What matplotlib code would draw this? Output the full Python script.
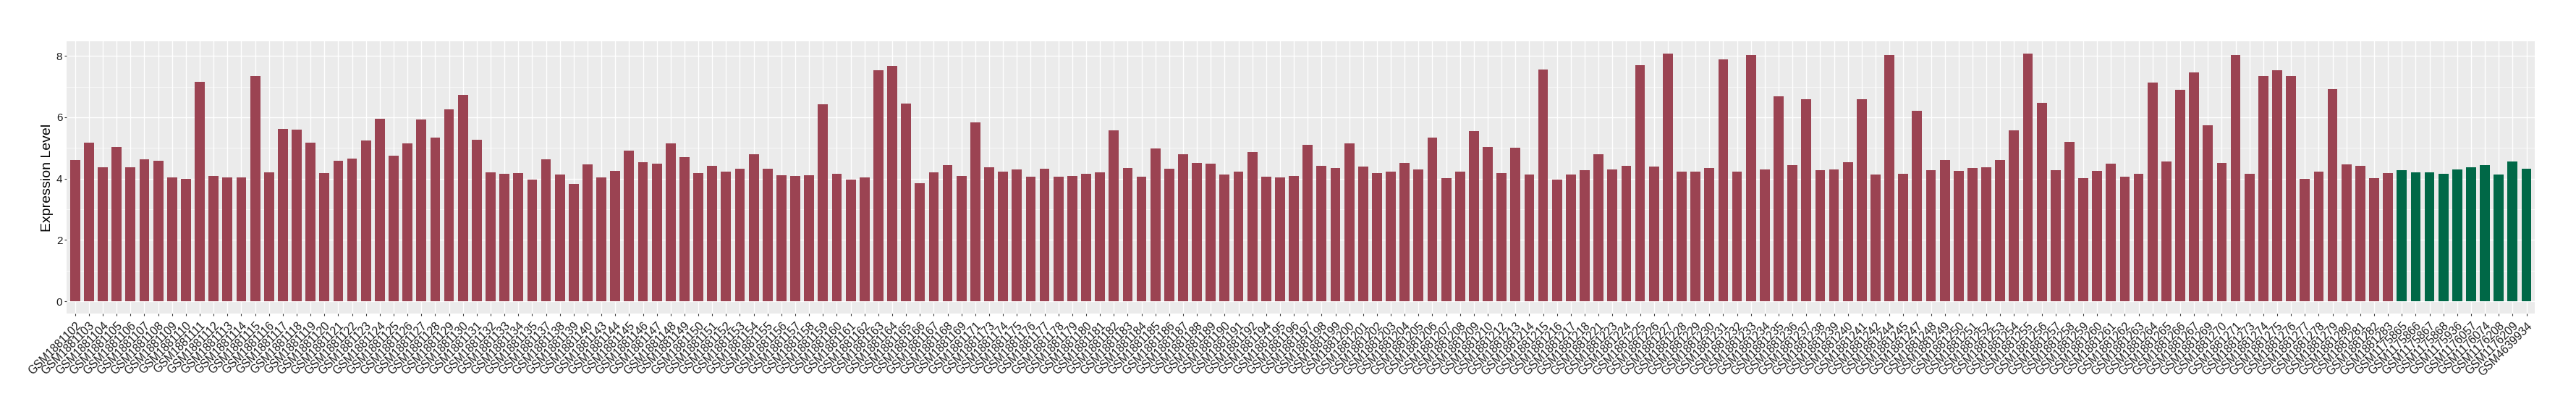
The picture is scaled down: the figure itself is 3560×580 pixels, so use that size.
import matplotlib
matplotlib.use("Agg")
import matplotlib.pyplot as plt
from matplotlib.ticker import MultipleLocator

plt.rcParams['font.family'] = ['Liberation Sans', 'DejaVu Sans']

red_samples = [
    "GSM1881102", "GSM1881103", "GSM1881104", "GSM1881105", "GSM1881106", "GSM1881107",
    "GSM1881108", "GSM1881109", "GSM1881110", "GSM1881111", "GSM1881112", "GSM1881113",
    "GSM1881114", "GSM1881115", "GSM1881116", "GSM1881117", "GSM1881118", "GSM1881119",
    "GSM1881120", "GSM1881121", "GSM1881122", "GSM1881123", "GSM1881124", "GSM1881125",
    "GSM1881126", "GSM1881127", "GSM1881128", "GSM1881129", "GSM1881130", "GSM1881131",
    "GSM1881132", "GSM1881133", "GSM1881134", "GSM1881135", "GSM1881137", "GSM1881138",
    "GSM1881139", "GSM1881140", "GSM1881143", "GSM1881144", "GSM1881145", "GSM1881146",
    "GSM1881147", "GSM1881148", "GSM1881149", "GSM1881150", "GSM1881151", "GSM1881152",
    "GSM1881153", "GSM1881154", "GSM1881155", "GSM1881156", "GSM1881157", "GSM1881158",
    "GSM1881159", "GSM1881160", "GSM1881161", "GSM1881162", "GSM1881163", "GSM1881164",
    "GSM1881165", "GSM1881166", "GSM1881167", "GSM1881168", "GSM1881169", "GSM1881171",
    "GSM1881173", "GSM1881174", "GSM1881175", "GSM1881176", "GSM1881177", "GSM1881178",
    "GSM1881179", "GSM1881180", "GSM1881181", "GSM1881182", "GSM1881183", "GSM1881184",
    "GSM1881185", "GSM1881186", "GSM1881187", "GSM1881188", "GSM1881189", "GSM1881190",
    "GSM1881191", "GSM1881192", "GSM1881194", "GSM1881195", "GSM1881196", "GSM1881197",
    "GSM1881198", "GSM1881199", "GSM1881200", "GSM1881201", "GSM1881202", "GSM1881203",
    "GSM1881204", "GSM1881205", "GSM1881206", "GSM1881207", "GSM1881208", "GSM1881209",
    "GSM1881210", "GSM1881212", "GSM1881213", "GSM1881214", "GSM1881215", "GSM1881216",
    "GSM1881217", "GSM1881218", "GSM1881221", "GSM1881223", "GSM1881224", "GSM1881225",
    "GSM1881226", "GSM1881227", "GSM1881228", "GSM1881229", "GSM1881230", "GSM1881231",
    "GSM1881232", "GSM1881233", "GSM1881234", "GSM1881235", "GSM1881236", "GSM1881237",
    "GSM1881238", "GSM1881239", "GSM1881240", "GSM1881241", "GSM1881242", "GSM1881244",
    "GSM1881245", "GSM1881247", "GSM1881248", "GSM1881249", "GSM1881250", "GSM1881251",
    "GSM1881252", "GSM1881253", "GSM1881254", "GSM1881255", "GSM1881256", "GSM1881257",
    "GSM1881258", "GSM1881259", "GSM1881260", "GSM1881261", "GSM1881262", "GSM1881263",
    "GSM1881264", "GSM1881265", "GSM1881266", "GSM1881267", "GSM1881269", "GSM1881270",
    "GSM1881271", "GSM1881273", "GSM1881274", "GSM1881275", "GSM1881276", "GSM1881277",
    "GSM1881278", "GSM1881279", "GSM1881280", "GSM1881281", "GSM1881282", "GSM1881283",
]
red_values = [
    4.61, 5.17, 4.38, 5.03, 4.38, 4.63,
    4.59, 4.04, 3.99, 7.16, 4.09, 4.04,
    4.04, 7.34, 4.21, 5.62, 5.60, 5.17,
    4.18, 4.59, 4.66, 5.25, 5.96, 4.75,
    5.15, 5.93, 5.34, 6.26, 6.73, 5.27,
    4.21, 4.16, 4.18, 3.97, 4.63, 4.13,
    3.83, 4.46, 4.04, 4.25, 4.92, 4.53,
    4.49, 5.15, 4.70, 4.18, 4.42, 4.23,
    4.32, 4.79, 4.32, 4.11, 4.09, 4.11,
    6.43, 4.16, 3.97, 4.04, 7.54, 7.68,
    6.45, 3.85, 4.21, 4.45, 4.09, 5.83,
    4.38, 4.23, 4.30, 4.06, 4.32, 4.06,
    4.09, 4.16, 4.21, 5.57, 4.35, 4.06,
    4.99, 4.32, 4.79, 4.52, 4.49, 4.13,
    4.23, 4.86, 4.06, 4.04, 4.09, 5.10,
    4.42, 4.35, 5.15, 4.39, 4.18, 4.23,
    4.52, 4.30, 5.34, 4.02, 4.23, 5.55,
    5.03, 4.18, 5.00, 4.13, 7.55, 3.97,
    4.13, 4.28, 4.79, 4.30, 4.42, 7.70,
    4.39, 8.08, 4.23, 4.23, 4.35, 7.89,
    4.23, 8.03, 4.30, 6.68, 4.45, 6.59,
    4.28, 4.30, 4.53, 6.59, 4.13, 8.03,
    4.16, 6.21, 4.28, 4.61, 4.25, 4.35,
    4.38, 4.61, 5.57, 8.08, 6.47, 4.28,
    5.20, 4.02, 4.25, 4.49, 4.06, 4.16,
    7.14, 4.56, 6.90, 7.47, 5.74, 4.52,
    8.03, 4.16, 7.34, 7.54, 7.34, 3.99,
    4.23, 6.92, 4.46, 4.42, 4.02, 4.18,
]
green_samples = [
    "GSM1175865", "GSM1175866", "GSM1175867", "GSM1175868", "GSM1175936",
    "GSM1176057", "GSM1176074", "GSM1176208", "GSM1176209", "GSM4639934",
]
green_values = [4.28, 4.21, 4.21, 4.16, 4.30, 4.38, 4.45, 4.13, 4.56, 4.32]

y_label = "Expression Level"
red_color = "#9B4352"
green_color = "#006847"

samples = red_samples + green_samples
values = red_values + green_values
colors = [red_color] * len(red_samples) + [green_color] * len(green_samples)
n = len(samples)
xpos = list(range(n))

fig = plt.figure(figsize=(35.6, 5.8), dpi=100)
ax = fig.add_axes([0.02593, 0.25293, 0.98399 - 0.02593, 0.90224 - 0.25293])
ax.set_facecolor("#EBEBEB")
for s in ax.spines.values():
    s.set_visible(False)

ax.bar(xpos, values, width=0.72, color=colors, zorder=3)

vmax = max(values)
ax.set_ylim(-0.05 * vmax, 1.05 * vmax)
ax.set_xlim(-0.6, n - 0.4)
ax.yaxis.set_major_locator(MultipleLocator(2))
ax.yaxis.set_minor_locator(MultipleLocator(1))
ax.set_xticks(xpos)
ax.set_xticklabels(samples, rotation=45, ha="right", va="top", rotation_mode="anchor",
                   fontsize=11.3, color="#1A1A1A")
ax.tick_params(axis="y", labelsize=11, labelcolor="#1A1A1A", pad=2)
ax.tick_params(axis="x", pad=4)
ax.tick_params(axis="both", which="major", length=2.3, width=0.8, color="#333333")
ax.tick_params(axis="y", which="minor", length=0)
ax.grid(True, which="major", color="white", linewidth=1.0, zorder=0)
ax.grid(True, which="minor", axis="y", color="white", linewidth=0.5, zorder=0)
ax.set_axisbelow(True)

fig.text(65 / 3560, 0.5776, y_label, rotation=90, ha="center", va="center",
         fontsize=14, color="black")

fig.savefig("out.png", dpi=100, facecolor="white")
